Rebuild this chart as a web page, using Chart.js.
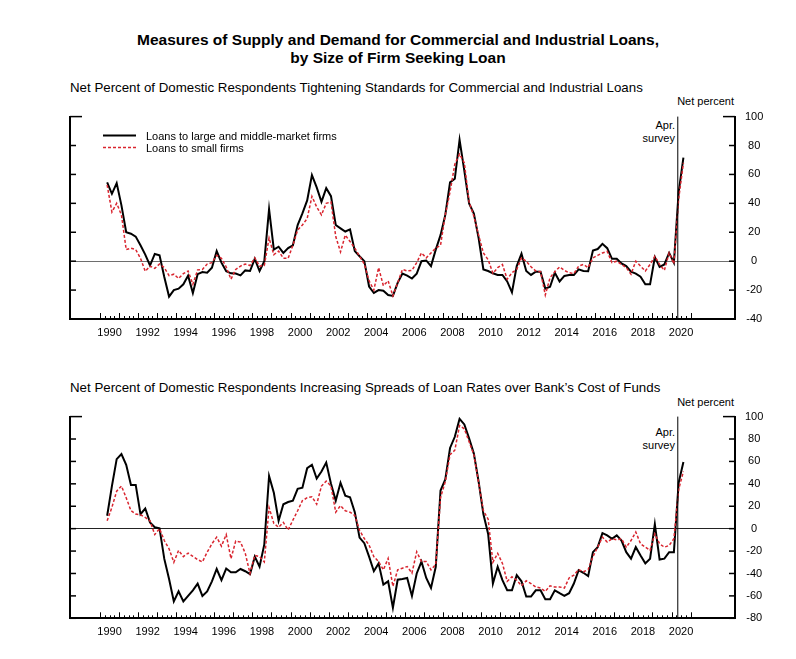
<!DOCTYPE html>
<html>
<head>
<meta charset="utf-8">
<script src="https://cdn.jsdelivr.net/npm/chart.js@4.4.1/dist/chart.umd.min.js"></script>
<style>
  body { margin: 0; background: #fff; font-family: "Liberation Sans", Arial, sans-serif; color: #000; }
  #page { position: relative; width: 796px; height: 659px; overflow: hidden; }
  .t { position: absolute; white-space: nowrap; }
  canvas { position: absolute; left: 0; }
</style>
</head>
<body>
<div id="page">
  <div class="t" style="left:0;width:796px;text-align:center;top:31px;font-weight:bold;font-size:15.5px;line-height:18px;">Measures of Supply and Demand for Commercial and Industrial Loans,<br>by Size of Firm Seeking Loan</div>

  <div class="t" style="left:70px;top:80px;font-size:13.3px;line-height:15px;">Net Percent of Domestic Respondents Tightening Standards for Commercial and Industrial Loans</div>
  <div class="t" style="right:62px;top:95px;font-size:11px;line-height:13px;">Net percent</div>
  <div class="t" style="right:121px;top:119px;font-size:11px;line-height:13px;text-align:right;">Apr.<br>survey</div>

  <div class="t" style="left:70px;top:380px;font-size:13.3px;line-height:15px;">Net Percent of Domestic Respondents Increasing Spreads of Loan Rates over Bank’s Cost of Funds</div>
  <div class="t" style="right:62px;top:396px;font-size:11px;line-height:13px;">Net percent</div>
  <div class="t" style="right:121px;top:426px;font-size:11px;line-height:13px;text-align:right;">Apr.<br>survey</div>

  <canvas id="standardsChart" width="796" height="250" style="top:100px"></canvas>
  <canvas id="spreadsChart" width="796" height="250" style="top:400px"></canvas>
</div>

<script>
// ---------------- DATA ----------------
// quarterly survey dates, 1990:Q2 onward
const quarters = [];
for (let k = 0; k < 122; k++) {
  quarters.push(`${1990 + Math.floor((k + 1) / 4)}:Q${(k + 1) % 4 + 1}`);
}

const yearLabels = [1990, 1992, 1994, 1996, 1998, 2000, 2002, 2004, 2006, 2008, 2010, 2012, 2014, 2016, 2018, 2020];
const standardsTicks = [-40, -20, 0, 20, 40, 60, 80, 100];
const spreadsTicks = [-80, -60, -40, -20, 0, 20, 40, 60, 80, 100];
const surveyDate = 2020.33; // "Apr. survey" marker

const seriesNames = ['Loans to large and middle-market firms', 'Loans to small firms'];

// Tightening standards
const standardsLarge = [
  54.5, 46.6, 54, 38.6, 20, 19, 17, 11, 4.5, -3, 5, 4,
  -11, -24.5, -20, -19, -16, -10, -22, -9, -7.5, -8, -4.5, 7,
  -1, -7, -8.4, -8.6, -9.8, -6.4, -6.8, 1.6, -6.8, 0, 36, 8,
  10, 5.7, 9, 11, 25, 33, 42, 59.5, 51, 41, 50.5, 45,
  25, 22.7, 20.5, 22, 7, 3.4, 0, -17.5, -22, -20, -20.5, -23.4,
  -24, -15, -8.6, -10, -12, -8.6, 0, 0.5, -3.4, 8, 18, 32,
  54.5, 57, 84, 62.5, 40, 33, 16, -5.7, -6.8, -8.4, -9.5, -9.5,
  -14, -21.6, -3.4, 5.2, -6.8, -9.5, -7.3, -7.3, -19, -17.7, -8, -14,
  -10.2, -9.5, -9.5, -5.7, -6.8, -7, 7.3, 8.4, 12, 9, 1.6, 1.6,
  -1.6, -3.4, -7.3, -8.6, -10.7, -16, -16, 2.7, -3.9, -2.3, 5.7, -1,
  47.7, 71.6
];
const standardsSmall = [
  52.7, 34, 40, 32, 8, 9, 8, 2, -7, -3.4, -5, -2,
  -4.5, -10, -9, -12, -8.6, -6.8, -16, -6, -5.7, -2, -1, 4,
  2, -4, -12.5, -5.7, -3.4, -2, -3, 2.3, -3.4, -3, 16, 4.5,
  7, 2, 2, 11, 21.6, 25, 29.5, 44.8, 37.5, 32, 40, 41,
  17, 6.4, 18, 13.6, 9, 3.4, -2, -13.6, -20, -4.5, -17, -13.6,
  -24, -15, -5.7, -6.8, -6.4, -1, 5.7, 2.3, 5.7, 9, 11, 32,
  48, 67, 74, 68, 41, 31, 18, 5.7, 1, -8.4, -4.5, -2.3,
  -12.5, -8, -5.7, 2.3, 0, -3.9, -6.8, -7.3, -23.4, -11.4, -7.3, -4,
  -6.4, -8, -8.6, -3.4, -2.3, -4.5, 2.3, 4, 5.7, 6.8, -1, 0,
  -2.3, -4.5, -9, 0, -3.4, -6.8, -2.3, 3.4, -2.3, -6.4, 5.7, -1.8,
  43, 68
];

// Increasing spreads
const spreadsLarge = [
  11.5, 38, 62, 66.5, 57, 39, 39, 13, 18, 5.6, 1.2, 0.3,
  -27, -45, -65, -56, -65, -60, -55, -49, -60, -56, -47, -36,
  -46, -35.6, -39, -39, -36, -38, -40.6, -25, -34, -14, 47, 32,
  7, 21.8, 23.8, 25, 35.6, 36.5, 54, 57, 44.7, 51, 59, 40,
  25, 41, 29.4, 28, 14.7, -8, -13, -25, -38, -31, -50, -47,
  -70.6, -45.6, -45, -44, -60, -40, -29.4, -44, -53, -34, 34, 44,
  72, 82, 98, 93, 80.6, 67, 42, 13, -4.7, -49, -34, -46,
  -55, -55, -41.5, -47, -60.6, -60.6, -55, -55, -63, -63, -55, -57.6,
  -60, -57.6, -49, -37, -39.4, -42.4, -21, -16.5, -4, -6, -9, -6,
  -10.6, -21, -26.8, -16.5, -24, -31, -26.8, 4, -27.6, -26.8, -21, -21,
  41, 59.4
];
const spreadsSmall = [
  7, 19, 33.5, 38, 27.6, 16, 13, 12.4, 10, 7, -5.3, 0,
  -10.6, -18, -30, -19.4, -25, -21.8, -24.7, -27.6, -29.7, -21, -13.5, -7.6,
  -15.6, -5.3, -26.8, -11, -12, -22, -40, -23.8, -25, -29.7, 18.8, 4.7,
  1.2, 5.6, -1.2, 7.6, 16, 25, 27.6, 28.5, 21.8, 38, 42.4, 38,
  14.7, 20.6, 16, 14.7, 11.8, -1.5, -8.8, -14.7, -25, -29.4, -36.8, -26.5,
  -51.5, -36.8, -35.3, -33.8, -39.7, -20.6, -29.4, -29.4, -36.8, -32, 27.6, 42,
  66, 70, 92, 89, 77.6, 66, 41, 16, 8.5, -30, -22, -31,
  -47, -43, -46, -51, -46.5, -49, -52, -53, -56, -51, -52, -52,
  -53, -44, -41.5, -36.5, -38.5, -36.5, -25, -16.5, -7.6, -12, -9, -10,
  -9, -16.5, -10.6, -3, -13.5, -16.5, -19.4, -4.7, -13.5, -16.5, -15, -9,
  35, 51
];

// ---------------- HELPERS ----------------
Chart.defaults.font.family = '"Liberation Sans", Arial, sans-serif';
Chart.defaults.font.size = 11;
Chart.defaults.color = '#000';

const BLACK = '#000';
const RED = '#d9252f';

// "1990:Q2" -> middle of the quarter on a decimal-year axis
function quarterToX(label) {
  const [y, q] = label.split(':Q').map(Number);
  return y + (q - 1) / 4 + 0.125;
}

function toPoints(values) {
  return values.map((v, i) => ({ x: quarterToX(quarters[i]), y: v }));
}

// inward tick marks on the frame, quarter ticks on the bottom axis, survey marker, legend
const frameTicks = {
  id: 'frameTicks',
  afterDatasetsDraw(chart, args, opts) {
    const { ctx, chartArea: a, scales } = chart;
    const yS = scales.y, xS = scales.x;
    const seg = (x1, y1, x2, y2) => { ctx.beginPath(); ctx.moveTo(x1, y1); ctx.lineTo(x2, y2); ctx.stroke(); };
    ctx.save();
    ctx.strokeStyle = BLACK;

    // survey marker
    ctx.lineWidth = 1;
    const sx = xS.getPixelForValue(surveyDate);
    seg(sx, a.top, sx, a.bottom);

    ctx.lineWidth = 1.5;
    opts.ticks.forEach(v => {
      const py = yS.getPixelForValue(v);
      const len = v === opts.ticks[opts.ticks.length - 1] ? 12 : 6;
      seg(a.left, py, a.left + len, py);
      seg(a.right - len, py, a.right, py);
    });

    ctx.lineWidth = 1;
    for (let q = 0; q <= (2021 - 1990) * 4; q++) {
      const px = Math.round(xS.getPixelForValue(1990 + q / 4)) + 0.5;
      const len = q % 4 === 0 ? 6 : 3;
      seg(px, a.bottom, px, a.bottom - len);
    }

    if (opts.legend) {
      const lx = a.left + 33, ly = a.top + 19;
      ctx.lineWidth = 2;
      seg(lx, ly, lx + 33, ly);
      ctx.strokeStyle = RED;
      ctx.lineWidth = 1.5;
      ctx.setLineDash([3, 2]);
      seg(lx, ly + 12, lx + 33, ly + 12);
      ctx.setLineDash([]);
      ctx.fillStyle = BLACK;
      ctx.font = '11px "Liberation Sans", Arial, sans-serif';
      ctx.textBaseline = 'middle';
      ctx.fillText(seriesNames[0], lx + 43, ly + 1);
      ctx.fillText(seriesNames[1], lx + 43, ly + 13);
    }
    ctx.restore();
  }
};

function makeChart(id, large, small, ticks, cfg) {
  const yMin = ticks[0], yMax = ticks[ticks.length - 1];
  return new Chart(document.getElementById(id), {
    type: 'line',
    data: {
      datasets: [
        { label: seriesNames[0], data: toPoints(large), borderColor: BLACK, borderWidth: 2, pointRadius: 0, tension: 0, order: 2 },
        { label: seriesNames[1], data: toPoints(small), borderColor: RED, borderWidth: 1.5, borderDash: [3, 2], pointRadius: 0, tension: 0, order: 1 }
      ]
    },
    options: {
      responsive: false,
      animation: false,
      layout: { padding: { left: 70, right: 0, top: cfg.top, bottom: 0 } },
      plugins: {
        legend: { display: false },
        tooltip: { enabled: false },
        frameTicks: { ticks: ticks, legend: cfg.legend }
      },
      scales: {
        x: {
          type: 'linear',
          min: 1988.425,
          max: 2023.333,
          afterBuildTicks: s => { s.ticks = yearLabels.map(y => ({ value: y + 0.5 })); },
          afterFit: s => { s.height = cfg.xHeight; },
          ticks: { autoSkip: false, maxRotation: 0, padding: 7, callback: v => String(Math.round(v - 0.5)) },
          grid: { display: false, tickLength: 0 },
          border: { color: BLACK, width: 2 }
        },
        y: {
          position: 'left',
          min: yMin, max: yMax,
          afterBuildTicks: s => { s.ticks = ticks.map(v => ({ value: v })); },
          afterFit: s => { s.width = 0; },
          ticks: { display: false },
          grid: {
            drawTicks: false,
            lineWidth: 1,
            color: c => (c.tick && c.tick.value === 0 ? cfg.zeroColor : 'rgba(0,0,0,0)')
          },
          border: { color: BLACK, width: 2 }
        },
        y2: {
          position: 'right',
          min: yMin, max: yMax,
          afterBuildTicks: s => { s.ticks = ticks.map(v => ({ value: v })); },
          afterFit: s => { s.width = 61; },
          ticks: { crossAlign: 'center', padding: 10 },
          grid: { display: false, tickLength: 0 },
          border: { color: BLACK, width: 2 }
        }
      }
    },
    plugins: [frameTicks]
  });
}

makeChart('standardsChart', standardsLarge, standardsSmall, standardsTicks,
  { top: 13.5, xHeight: 31, zeroColor: '#6e6e6e', legend: true });
makeChart('spreadsChart', spreadsLarge, spreadsSmall, spreadsTicks,
  { top: 14.3, xHeight: 31.7, zeroColor: '#222', legend: false });
</script>
</body>
</html>
